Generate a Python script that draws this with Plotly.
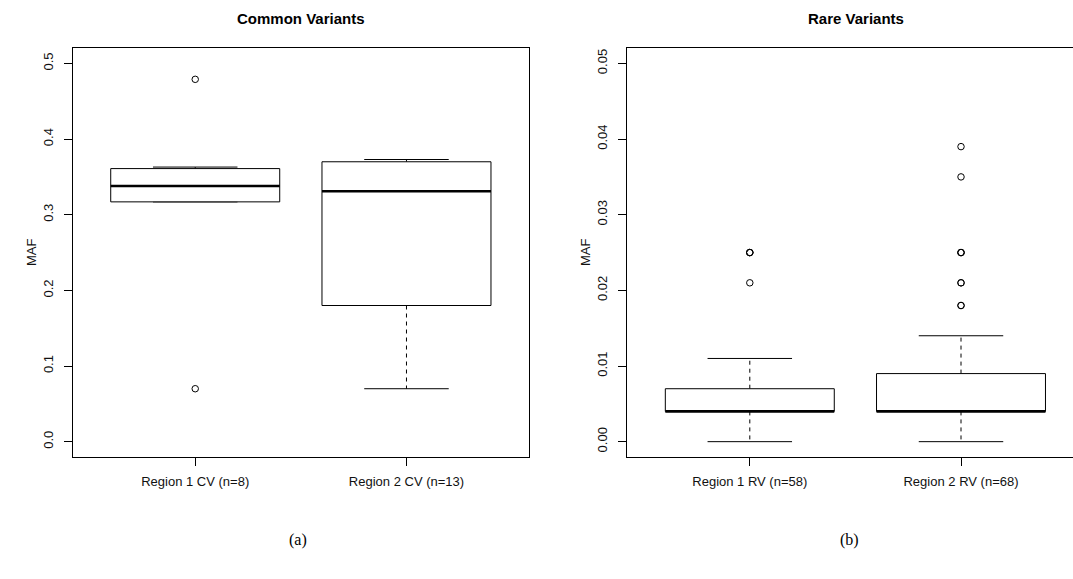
import plotly.graph_objects as go

# ---------------- data ----------------
cv_labels = ["Region 1 CV (n=8)", "Region 2 CV (n=13)"]
cv_lower = [0.317, 0.070]
cv_q1 = [0.317, 0.180]
cv_median = [0.338, 0.331]
cv_q3 = [0.361, 0.370]
cv_upper = [0.363, 0.373]
cv_outliers = [[0.479, 0.070], []]

rv_labels = ["Region 1 RV (n=58)", "Region 2 RV (n=68)"]
rv_lower = [0.0, 0.0]
rv_q1 = [0.004, 0.004]
rv_median = [0.004, 0.004]
rv_q3 = [0.007, 0.009]
rv_upper = [0.011, 0.014]
rv_outliers = [[0.021, 0.025, 0.025, 0.025],
               [0.018, 0.018, 0.021, 0.021, 0.025, 0.025, 0.025, 0.035, 0.039]]

cv_ticks = [0.0, 0.1, 0.2, 0.3, 0.4, 0.5]
rv_ticks = [0.00, 0.01, 0.02, 0.03, 0.04, 0.05]

W, H = 1073, 579
BOXW = 0.4   # half box width (R boxwex 0.8)
CAPW = 0.2   # half staple width

fig = go.Figure()


def add_boxes(lower, q1, med, q3, upper, outliers, xa, ya):
    for i in range(len(med)):
        c = i + 1
        # dashed whiskers
        fig.add_trace(go.Scatter(
            x=[c, c, None, c, c], y=[q3[i], upper[i], None, q1[i], lower[i]],
            mode="lines", line=dict(color="black", width=1, dash="4px,4px"),
            xaxis=xa, yaxis=ya, showlegend=False, hoverinfo="skip"))
        # staples
        fig.add_trace(go.Scatter(
            x=[c - CAPW, c + CAPW, None, c - CAPW, c + CAPW],
            y=[upper[i], upper[i], None, lower[i], lower[i]],
            mode="lines", line=dict(color="black", width=1),
            xaxis=xa, yaxis=ya, showlegend=False, hoverinfo="skip"))
        # box
        fig.add_trace(go.Scatter(
            x=[c - BOXW, c + BOXW, c + BOXW, c - BOXW, c - BOXW],
            y=[q1[i], q1[i], q3[i], q3[i], q1[i]],
            mode="lines", line=dict(color="black", width=1),
            fill="toself", fillcolor="white",
            xaxis=xa, yaxis=ya, showlegend=False, hoverinfo="skip"))
        # median
        fig.add_trace(go.Scatter(
            x=[c - BOXW, c + BOXW], y=[med[i], med[i]],
            mode="lines", line=dict(color="black", width=2.6),
            xaxis=xa, yaxis=ya, showlegend=False, hoverinfo="skip"))
        # outliers
        if outliers[i]:
            fig.add_trace(go.Scatter(
                x=[c] * len(outliers[i]), y=outliers[i], mode="markers",
                marker=dict(symbol="circle-open", size=6.5, color="black",
                            line=dict(width=1, color="black")),
                xaxis=xa, yaxis=ya, showlegend=False, hoverinfo="skip"))


add_boxes(cv_lower, cv_q1, cv_median, cv_q3, cv_upper, cv_outliers, "x", "y")
add_boxes(rv_lower, rv_q1, rv_median, rv_q3, rv_upper, rv_outliers, "x2", "y2")

ydom = [(H - 456.8) / H, (H - 48.3) / H]
tickfont = dict(family="Liberation Sans, Arial, sans-serif", size=13, color="#111111")

xcommon = dict(range=[0.42, 2.58], tickmode="array", tickvals=[1, 2],
               ticks="outside", ticklen=8, tickcolor="black", tickwidth=1,
               showline=True, linecolor="black", linewidth=1, mirror=True,
               showgrid=False, zeroline=False, tickfont=tickfont,
               ticklabelstandoff=5)
ycommon = dict(tickmode="array", ticks="outside", ticklen=8, tickcolor="black",
               tickwidth=1, showline=True, linecolor="black", linewidth=1,
               showgrid=False, zeroline=False, tickangle=-90, tickfont=tickfont,
               ticklabelstandoff=6)

right_px = (W - 627.3) / 211.2
fig.update_layout(
    width=W, height=H, autosize=False,
    margin=dict(l=0, r=0, t=0, b=0),
    paper_bgcolor="white", plot_bgcolor="white",
    xaxis=dict(xcommon, domain=[72.7 / W, 529.0 / W], ticktext=cv_labels,
               anchor="y"),
    yaxis=dict(ycommon, domain=ydom, range=[-0.02, 0.52], tickvals=cv_ticks,
               ticktext=["0.0", "0.1", "0.2", "0.3", "0.4", "0.5"],
               mirror=True, anchor="x"),
    xaxis2=dict(xcommon, domain=[627.3 / W, 1.0], ticktext=rv_labels,
                range=[0.42, 0.42 + right_px], anchor="y2"),
    yaxis2=dict(ycommon, domain=ydom, range=[-0.002, 0.052], tickvals=rv_ticks,
                ticktext=["0.00", "0.01", "0.02", "0.03", "0.04", "0.05"],
                mirror=False, anchor="x2"),
)

ann_font = dict(family="Liberation Sans, Arial, sans-serif", size=13, color="#111111")
bold_font = dict(family="Liberation Sans, Arial, sans-serif", size=15, color="black")
serif_font = dict(family="Liberation Serif, DejaVu Serif, serif", size=16, color="black")


def px(x, y):
    return dict(x=x / W, y=1 - y / H, xref="paper", yref="paper",
                showarrow=False, xanchor="center", yanchor="middle")


annotations = [
    dict(px(300.8, 18), text="<b>Common Variants</b>", font=bold_font),
    dict(px(855.5, 18), text="<b>Rare Variants</b>", font=bold_font),
    dict(px(31, 252), text="MAF", font=ann_font, textangle=-90),
    dict(px(585, 252), text="MAF", font=ann_font, textangle=-90),
    dict(px(298, 540), text="(a)", font=serif_font),
    dict(px(849, 540), text="(b)", font=serif_font),
]
fig.update_layout(annotations=annotations)

fig.write_html("out.html")
